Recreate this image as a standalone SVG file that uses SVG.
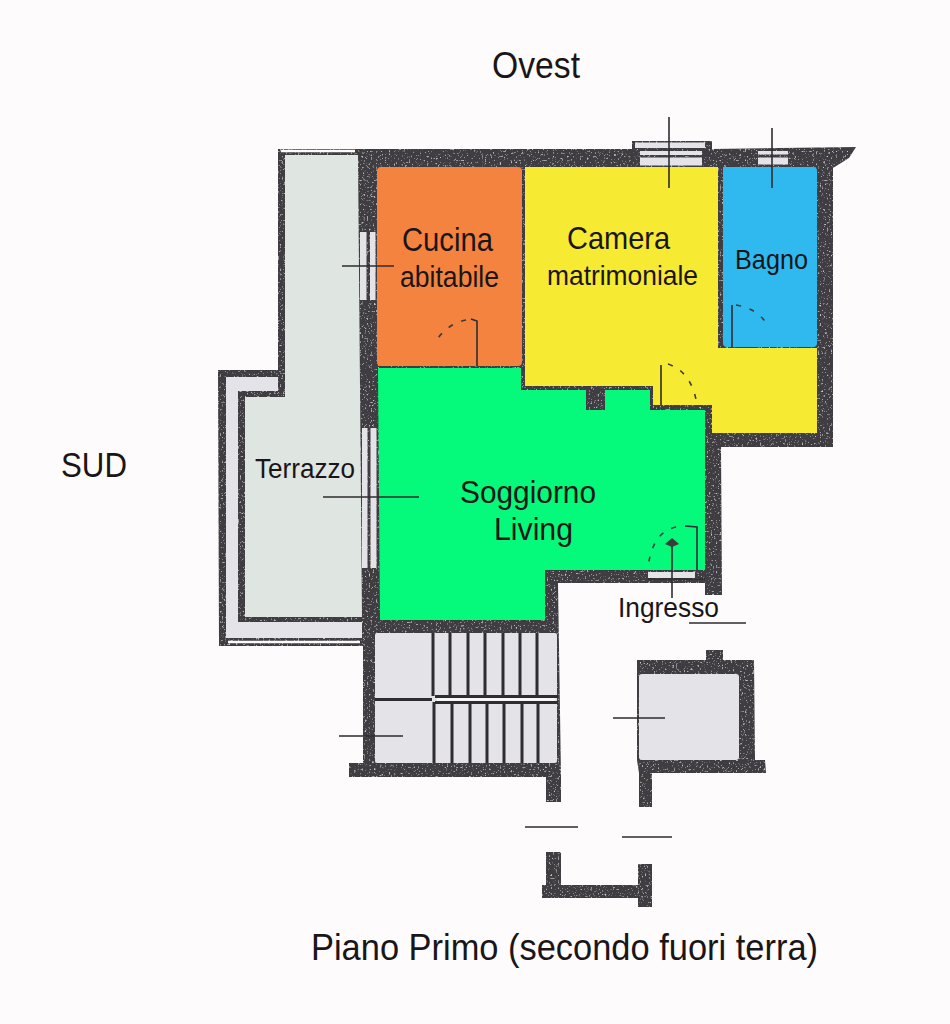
<svg xmlns="http://www.w3.org/2000/svg" width="950" height="1024" viewBox="0 0 950 1024">
<style>
.w{fill:#403e42}
.l{fill:#e3e3e8}
.s{fill:none;stroke:#2f2d30;stroke-width:1.6}
.t{stroke:#2f2d30;stroke-width:3;fill:none}
.d{fill:none;stroke:#3c3a3c;stroke-width:1.6;stroke-dasharray:5 9}
text{font-family:"Liberation Sans",Arial,sans-serif;fill:#1a1517}
</style>
<defs>
<filter id="speck" x="-5%" y="-5%" width="110%" height="110%">
<feTurbulence type="fractalNoise" baseFrequency="0.55" numOctaves="2" seed="4" result="n"/>
<feColorMatrix in="n" type="matrix" values="0 0 0 0 0.78  0 0 0 0 0.78  0 0 0 0 0.78  3.2 0 0 0 -1.95" result="c"/>
<feComposite in="c" in2="SourceAlpha" operator="in" result="m"/>
<feMerge><feMergeNode in="SourceGraphic"/><feMergeNode in="m"/></feMerge>
</filter>
</defs>
<rect width="950" height="1024" fill="#fdfbfb"/>
<g id="walls" filter="url(#speck)">
<path class="w" d="M278 149L632 149L632 141L712 141L712 149L856 147L849 158L833 168L833 447L721 447L722 595L705 595L705 583L558 583L561 777L561 802L546 802L546 777L349 777L349 763L363 763L363 646L219 646L218 370L278 370Z"/>
<path class="w" d="M637 660L706 660L706 650L723 650L723 660L754 660L755 760L765 760L766 773L652 773L652 807L639 807L639 773L637 760Z"/>
<path class="w" d="M546 852L561 852L561 885L638 885L638 864L652 864L652 907L638 907L638 898L542 898L542 885L546 885Z"/>
</g>
<g id="terrazzo">
<path d="M285 155L358 155L362 617L245 617L245 397L285 397Z" fill="#dfe5e1"/>
<path class="l" d="M226 377L278 377L278 391L238 391L238 622L362 622L362 638L226 638Z"/>
<path d="M281 151H355M228 642H360" stroke="#fdfbfb" stroke-width="2.400"/>
</g>
<g id="cucina"><path d="M381 167H518Q522 167 522 171V362Q522 366 518 366H381Q377 366 377 362V171Q377 167 381 167Z" fill="#f58340"/></g>
<g id="camera"><path d="M525 167H718V348H817V433H712V405H653V386H525Z" fill="#f6ea32"/></g>
<g id="bagno"><path d="M723 167H813Q817 167 817 171V343Q817 347 813 347H727Q723 347 723 343Z" fill="#2fb9ef"/></g>
<g id="soggiorno"><path d="M378 368H521V390H586V410H605V390H650V410H705V570H545V620H380Z" fill="#05f97a"/></g>
<g id="finestre">
<rect class="l" x="635" y="142.500" width="70" height="5.500"/><rect class="l" x="640" y="151" width="62" height="4"/><rect class="l" x="640" y="157.500" width="62" height="8"/>
<rect class="l" x="758" y="151" width="30" height="3.500"/><rect class="l" x="758" y="157.500" width="30" height="7"/>
<rect class="l" x="360" y="232" width="6.500" height="68"/><rect class="l" x="370" y="232" width="5.500" height="68"/>
<rect class="l" x="362" y="428" width="5.500" height="140"/><rect class="l" x="370.500" y="428" width="6" height="140"/>
<rect class="l" x="648" y="572" width="47" height="6"/>
</g>
<g id="scale">
<rect class="l" x="375" y="633" width="182" height="130" rx="2"/>
<path class="t" d="M433 633V696M450 633V696M468 633V696M485 633V696M503 633V696M520 633V696M537 633V696M434 702V763M452 702V763M470 702V763M487 702V763M504 702V763M522 702V763M538 702V763"/>
<path class="t" d="M375 699.500H432M435 696.500H558M435 702.500H558"/>
<path d="M437 699.500H555" stroke="#fdfbfb" stroke-width="2.500"/>
</g>
<g id="ascensore"><rect class="l" x="639" y="674" width="100" height="86" rx="3"/></g>
<g id="porte">
<path class="s" d="M477 366V321L471 319"/><path class="d" d="M466 320Q446 324 434 344"/>
<path class="s" d="M732 347V305" stroke-width="2"/><path class="d" d="M736 305Q760 309 769 328"/>
<path class="s" d="M661 405V365"/><path class="d" d="M668 364Q692 372 697 405"/>
<path class="s" d="M697 570V527L685 526"/><path class="d" d="M676 527Q652 532 648 568"/>
</g>
<g id="connettori">
<path class="s" d="M669 117V188M772 128V188M342 266H394M323 497H419M339 736H403M613 718H665M689 623H746M525 827H578M622 837H672M672 598V545M648 579H705"/>
<path d="M672 538L679 544L672 547L665 544Z" fill="#3c3a3c"/>
</g>
<g id="testi" lengthAdjust="spacingAndGlyphs">
<text x="492" y="78" font-size="37" textLength="88" lengthAdjust="spacingAndGlyphs">Ovest</text>
<text x="61" y="477" font-size="35" textLength="66" lengthAdjust="spacingAndGlyphs">SUD</text>
<text x="402" y="251" font-size="33" textLength="91" lengthAdjust="spacingAndGlyphs">Cucina</text>
<text x="400" y="287" font-size="29" textLength="99" lengthAdjust="spacingAndGlyphs">abitabile</text>
<text x="567" y="249" font-size="32" textLength="103" lengthAdjust="spacingAndGlyphs">Camera</text>
<text x="547" y="285" font-size="28" textLength="151" lengthAdjust="spacingAndGlyphs">matrimoniale</text>
<text x="735" y="269" font-size="28" textLength="73" lengthAdjust="spacingAndGlyphs">Bagno</text>
<text x="255" y="478" font-size="28" textLength="100" lengthAdjust="spacingAndGlyphs">Terrazzo</text>
<text x="460" y="503" font-size="31" textLength="136" lengthAdjust="spacingAndGlyphs">Soggiorno</text>
<text x="494" y="540" font-size="31" textLength="79" lengthAdjust="spacingAndGlyphs">Living</text>
<text x="618" y="617" font-size="28" textLength="101" lengthAdjust="spacingAndGlyphs">Ingresso</text>
<text x="311" y="960" font-size="36" textLength="507" lengthAdjust="spacingAndGlyphs">Piano Primo (secondo fuori terra)</text>
</g>
</svg>
